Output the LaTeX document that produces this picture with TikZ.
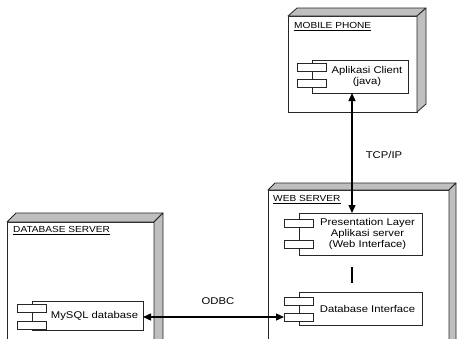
\documentclass[tikz,border=0pt]{standalone}
\usepackage{fontspec}
\setmainfont{Liberation Sans}[FakeStretch=1.15]
\usetikzlibrary{arrows.meta,calc}
\begin{document}
\begin{tikzpicture}[x=1pt,y=-1pt,
  front/.style={draw=black!85, line width=0.8pt, fill=white, inner sep=0pt, outer sep=0pt},
  side/.style={draw=black!85, line width=0.8pt, fill=black!25, line join=round},
  compbox/.style={draw=black!85, line width=0.8pt, fill=white, inner sep=0pt, outer sep=0pt},
  smallbox/.style={draw=black!85, line width=0.8pt, fill=white, inner sep=0pt, outer sep=0pt, minimum width=29pt, minimum height=8pt},
  ctext/.style={font=\fontsize{9.8}{11}\selectfont, align=center, inner sep=0pt},
  ttext/.style={font=\fontsize{8.8}{10}\selectfont, inner sep=0pt, anchor=base west},
  link/.style={line width=1.2pt, draw=black},
  bothtips/.style={{Triangle[length=8pt,width=7pt]}-{Triangle[length=8pt,width=7pt]}}
]
\useasboundingbox (0,0) rectangle (457,338);
\clip (0,0) rectangle (457,338);

% ---------- Mobile phone ----------
\node[front, minimum width=129pt, minimum height=96pt] (mobile) at (352.5,64) {};
\draw[side] (mobile.north west) -- ++(9,-8) -- ++(129,0) -- (mobile.north east) -- cycle;
\draw[side] (mobile.north east) -- ++(9,-8) -- ++(0,96) -- (mobile.south east) -- cycle;
\node[ttext] (mobt) at (294,28.3) {\underline{MOBILE PHONE}};

\node[compbox, minimum width=96pt, minimum height=33pt] (client) at (360,76.5) {};
\node[smallbox] (client1) at (311.5,67.5) {};
\node[smallbox] (client2) at (311.5,83.5) {};
\node[ctext] (clientt) at (367,76.5) {Aplikasi Client\\(java)};

% ---------- Web server ----------
\node[front, minimum width=181pt, minimum height=160pt] (web) at (358.5,270) {};
\draw[side] (web.north west) -- ++(7,-7) -- ++(181,0) -- (web.north east) -- cycle;
\draw[side] (web.north east) -- ++(7,-7) -- ++(0,160) -- (web.south east) -- cycle;
\node[ttext] (webt) at (273,201.7) {\underline{WEB SERVER}};

\node[compbox, minimum width=123pt, minimum height=42pt] (pres) at (360.5,234) {};
\node[smallbox] (pres1) at (298.5,223) {};
\node[smallbox] (pres2) at (298.5,244) {};
\node[ctext] (prest) at (367.5,234) {Presentation Layer\\Aplikasi server\\(Web Interface)};

\node[compbox, minimum width=123pt, minimum height=33pt] (dbi) at (360.5,308.5) {};
\node[smallbox] (dbi1) at (298.5,301) {};
\node[smallbox] (dbi2) at (298.5,317) {};
\node[ctext] (dbit) at (367.5,308.5) {Database Interface};

% ---------- Database server ----------
\node[front, minimum width=147pt, minimum height=128pt] (db) at (80.5,286) {};
\draw[side] (db.north west) -- ++(9,-9) -- ++(147,0) -- (db.north east) -- cycle;
\draw[side] (db.north east) -- ++(9,-9) -- ++(0,128) -- (db.south east) -- cycle;
\node[ttext] (dbt) at (13,232.3) {\underline{DATABASE SERVER}};

\node[compbox, minimum width=111pt, minimum height=29pt] (mysql) at (87.5,315.5) {};
\node[smallbox] (mysql1) at (31.5,308) {};
\node[smallbox] (mysql2) at (31.5,325) {};
\node[ctext] (mysqlt) at (94.5,315.5) {MySQL database};

% ---------- Connectors ----------
\coordinate (tx) at (352,150);
\draw[link, bothtips] (client.south -| tx) -- (pres.north -| tx);
\draw[link] ($(pres.south -| tx)+(0,12)$) -- ($(dbi.north -| tx)+(0,-9)$);
\draw[link, bothtips] (mysql.east |- dbi2.west) -- (dbi2.west);

\node[ctext] (tcp) at (384,155) {TCP/IP};
\node[ctext] (odbc) at (218,301) {ODBC};
\end{tikzpicture}
\end{document}
